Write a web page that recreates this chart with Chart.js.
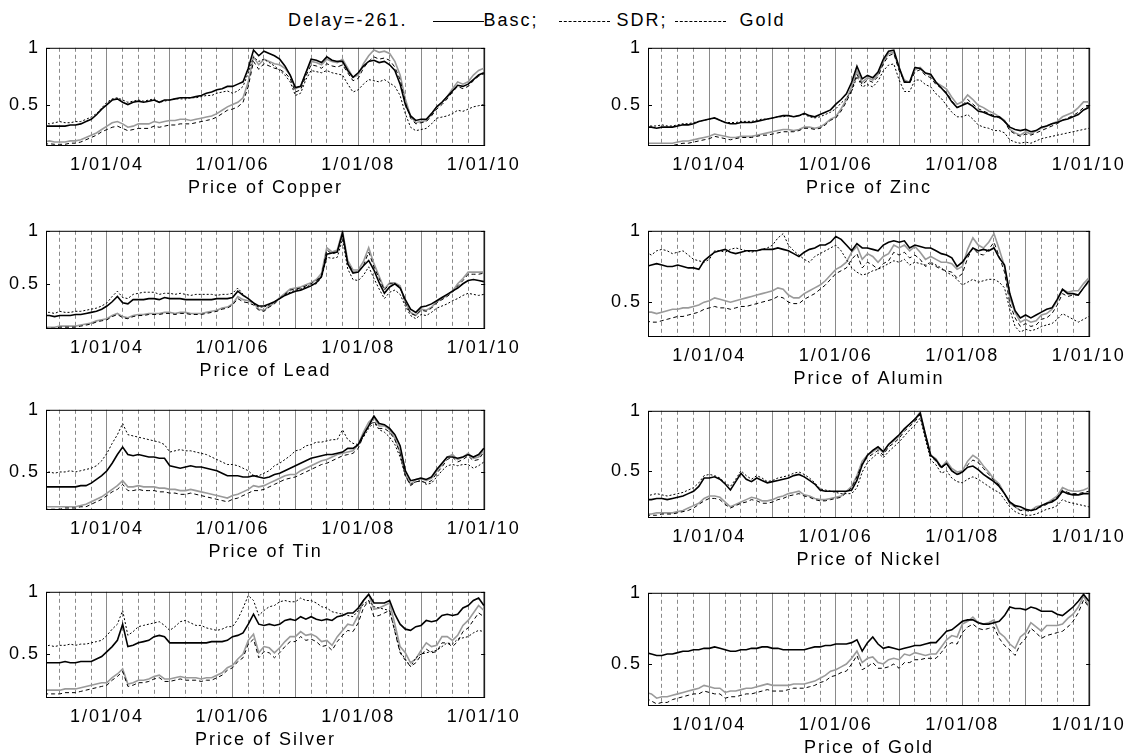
<!DOCTYPE html>
<html>
<head>
<meta charset="utf-8">
<script src="https://cdn.jsdelivr.net/npm/chart.js@4"></script>
<style>
  body { margin: 0; background: #fff; overflow: hidden; width: 1135px; height: 754px; position: relative; }
  .panel { position: absolute; }
  #header { position: absolute; top: 9px; left: 288px; font: 18px "Liberation Sans", Arial, sans-serif; letter-spacing: 2px; line-height: 22px; white-space: pre; color: #000; }
  .smp { display: inline-block; width: 51px; height: 0; vertical-align: middle; border-top: 1px solid #000; }
  .smp.dash { border-top: 1px dashed #000; }
</style>
</head>
<body>
<div id="header">Delay=-261.   <span class="smp" style="margin-left:4px"></span>Basc;  <span class="smp dash" style="margin-left:6px"></span> SDR; <span class="smp dash"></span>  Gold</div>
<script>
// monthly samples, Jan 2003 .. Jan 2010
const months = [
  '2003-01','2003-02','2003-03','2003-04','2003-05','2003-06','2003-07','2003-08','2003-09','2003-10','2003-11','2003-12',
  '2004-01','2004-02','2004-03','2004-04','2004-05','2004-06','2004-07','2004-08','2004-09','2004-10','2004-11','2004-12',
  '2005-01','2005-02','2005-03','2005-04','2005-05','2005-06','2005-07','2005-08','2005-09','2005-10','2005-11','2005-12',
  '2006-01','2006-02','2006-03','2006-04','2006-05','2006-06','2006-07','2006-08','2006-09','2006-10','2006-11','2006-12',
  '2007-01','2007-02','2007-03','2007-04','2007-05','2007-06','2007-07','2007-08','2007-09','2007-10','2007-11','2007-12',
  '2008-01','2008-02','2008-03','2008-04','2008-05','2008-06','2008-07','2008-08','2008-09','2008-10','2008-11','2008-12',
  '2009-01','2009-02','2009-03','2009-04','2009-05','2009-06','2009-07','2009-08','2009-09','2009-10','2009-11','2009-12',
  '2010-01'
];

const tickYears = [2004, 2006, 2008, 2010];
const tickLabels = ['1/01/04', '1/01/06', '1/01/08', '1/01/10'];
const yTickValues = [0.5, 1];
const yTickLabels = ['0.5', '1'];

// Copper
const copperPrice = [
  0.17,0.18,0.17,0.17,0.17,0.18,0.18,0.19,0.21,0.23,0.25,0.28,
  0.31,0.34,0.35,0.33,0.30,0.31,0.33,0.33,0.33,0.35,0.34,0.35,
  0.36,0.36,0.37,0.37,0.36,0.37,0.38,0.39,0.40,0.42,0.45,0.48,
  0.50,0.52,0.56,0.70,0.92,0.85,0.90,0.88,0.86,0.85,0.82,0.76,
  0.64,0.66,0.78,0.88,0.87,0.85,0.90,0.88,0.87,0.90,0.82,0.74,
  0.76,0.86,0.93,0.98,0.96,0.97,0.95,0.88,0.76,0.55,0.40,0.34,
  0.35,0.36,0.42,0.48,0.52,0.57,0.64,0.70,0.68,0.70,0.76,0.80,
  0.82];
const copperBasc = [
  0.31,0.31,0.31,0.31,0.31,0.32,0.32,0.33,0.35,0.37,0.41,0.46,
  0.50,0.54,0.55,0.52,0.50,0.52,0.53,0.52,0.53,0.54,0.52,0.54,
  0.54,0.55,0.56,0.56,0.56,0.57,0.58,0.60,0.61,0.63,0.64,0.66,
  0.66,0.68,0.70,0.82,0.98,0.93,0.97,0.95,0.93,0.90,0.84,0.76,
  0.65,0.66,0.78,0.90,0.89,0.87,0.92,0.89,0.88,0.88,0.80,0.74,
  0.78,0.84,0.88,0.89,0.87,0.88,0.85,0.80,0.68,0.50,0.40,0.36,
  0.37,0.37,0.42,0.48,0.52,0.57,0.62,0.67,0.66,0.68,0.72,0.76,
  0.78];
const copperSdr = [
  0.15,0.155,0.15,0.15,0.15,0.16,0.16,0.17,0.19,0.21,0.23,0.26,
  0.28,0.30,0.31,0.29,0.27,0.28,0.29,0.29,0.29,0.31,0.30,0.31,
  0.32,0.32,0.33,0.33,0.33,0.34,0.35,0.36,0.37,0.39,0.42,0.45,
  0.46,0.48,0.52,0.66,0.88,0.81,0.86,0.84,0.82,0.81,0.78,0.73,
  0.61,0.63,0.75,0.85,0.84,0.82,0.86,0.84,0.83,0.85,0.78,0.71,
  0.73,0.82,0.88,0.92,0.90,0.91,0.89,0.83,0.72,0.52,0.38,0.33,
  0.34,0.35,0.40,0.46,0.50,0.55,0.61,0.66,0.64,0.66,0.71,0.75,
  0.77];
const copperGold = [
  0.34,0.33,0.34,0.35,0.34,0.34,0.35,0.35,0.37,0.39,0.42,0.47,
  0.52,0.55,0.56,0.54,0.52,0.53,0.54,0.53,0.54,0.55,0.52,0.53,
  0.54,0.55,0.55,0.55,0.56,0.56,0.57,0.58,0.58,0.60,0.61,0.62,
  0.60,0.62,0.66,0.78,0.92,0.88,0.90,0.87,0.84,0.80,0.76,0.70,
  0.58,0.60,0.72,0.80,0.79,0.78,0.80,0.78,0.77,0.76,0.68,0.61,
  0.63,0.68,0.72,0.71,0.70,0.72,0.69,0.66,0.58,0.42,0.30,0.27,
  0.28,0.29,0.33,0.38,0.39,0.40,0.42,0.45,0.44,0.46,0.48,0.49,
  0.50];

// Zinc
const zincPrice = [
  0.17,0.17,0.17,0.17,0.17,0.17,0.18,0.19,0.19,0.20,0.21,0.22,
  0.23,0.25,0.24,0.23,0.22,0.22,0.23,0.23,0.23,0.24,0.25,0.26,
  0.27,0.28,0.29,0.29,0.28,0.29,0.31,0.31,0.30,0.31,0.34,0.38,
  0.40,0.47,0.55,0.66,0.80,0.70,0.74,0.72,0.77,0.88,0.95,0.96,
  0.82,0.72,0.70,0.81,0.83,0.78,0.76,0.70,0.67,0.64,0.57,0.51,
  0.53,0.59,0.55,0.50,0.48,0.45,0.43,0.40,0.37,0.29,0.26,0.24,
  0.27,0.25,0.28,0.30,0.32,0.34,0.36,0.40,0.42,0.44,0.48,0.53,
  0.53];
const zincBasc = [
  0.31,0.31,0.30,0.31,0.31,0.31,0.32,0.33,0.33,0.34,0.36,0.37,
  0.38,0.39,0.37,0.35,0.34,0.34,0.35,0.35,0.35,0.36,0.37,0.38,
  0.39,0.40,0.41,0.41,0.40,0.41,0.43,0.41,0.40,0.42,0.44,0.46,
  0.51,0.55,0.60,0.70,0.84,0.73,0.76,0.74,0.79,0.90,0.97,0.98,
  0.83,0.70,0.70,0.83,0.82,0.78,0.77,0.70,0.65,0.60,0.53,0.48,
  0.50,0.52,0.49,0.45,0.44,0.42,0.40,0.40,0.36,0.31,0.29,0.28,
  0.29,0.27,0.28,0.31,0.32,0.34,0.35,0.37,0.38,0.40,0.42,0.46,
  0.48];
const zincSdr = [
  0.15,0.15,0.15,0.15,0.15,0.15,0.16,0.17,0.17,0.18,0.19,0.20,
  0.21,0.23,0.22,0.21,0.20,0.21,0.22,0.22,0.22,0.23,0.24,0.24,
  0.25,0.26,0.27,0.27,0.27,0.28,0.30,0.30,0.29,0.30,0.33,0.37,
  0.39,0.45,0.53,0.63,0.77,0.68,0.72,0.70,0.75,0.86,0.93,0.95,
  0.80,0.71,0.69,0.79,0.81,0.76,0.74,0.68,0.65,0.61,0.54,0.48,
  0.50,0.55,0.51,0.47,0.45,0.43,0.41,0.39,0.36,0.28,0.25,0.23,
  0.25,0.24,0.26,0.28,0.30,0.32,0.34,0.37,0.39,0.41,0.44,0.48,
  0.49];
const zincGold = [
  0.32,0.32,0.32,0.33,0.32,0.32,0.33,0.34,0.34,0.35,0.36,0.37,
  0.38,0.39,0.37,0.35,0.35,0.35,0.36,0.36,0.36,0.37,0.38,0.38,
  0.39,0.40,0.40,0.41,0.40,0.41,0.42,0.40,0.39,0.40,0.42,0.44,
  0.47,0.52,0.56,0.62,0.75,0.66,0.68,0.66,0.71,0.80,0.85,0.86,
  0.72,0.62,0.62,0.72,0.72,0.68,0.66,0.60,0.56,0.50,0.44,0.40,
  0.40,0.42,0.38,0.33,0.31,0.30,0.28,0.28,0.26,0.20,0.18,0.17,
  0.18,0.17,0.19,0.21,0.22,0.23,0.24,0.25,0.26,0.27,0.28,0.29,
  0.30];

// Lead
const leadPrice = [
  0.09,0.09,0.09,0.10,0.10,0.10,0.10,0.11,0.12,0.13,0.15,0.16,
  0.17,0.20,0.22,0.19,0.18,0.20,0.21,0.21,0.22,0.22,0.22,0.23,
  0.23,0.22,0.23,0.23,0.22,0.22,0.22,0.23,0.24,0.25,0.27,0.28,
  0.31,0.38,0.35,0.34,0.32,0.26,0.25,0.29,0.32,0.37,0.41,0.45,
  0.46,0.47,0.49,0.51,0.54,0.60,0.84,0.80,0.82,1.00,0.72,0.63,
  0.63,0.71,0.84,0.69,0.57,0.45,0.51,0.51,0.48,0.32,0.23,0.20,
  0.26,0.25,0.28,0.33,0.36,0.39,0.43,0.50,0.55,0.61,0.61,0.61,
  0.61];
const leadBasc = [
  0.20,0.20,0.19,0.20,0.20,0.20,0.21,0.21,0.22,0.23,0.24,0.26,
  0.29,0.33,0.38,0.32,0.31,0.35,0.35,0.35,0.36,0.36,0.35,0.37,
  0.36,0.36,0.36,0.35,0.35,0.35,0.35,0.35,0.35,0.36,0.36,0.36,
  0.37,0.43,0.39,0.36,0.32,0.29,0.29,0.31,0.33,0.36,0.39,0.41,
  0.43,0.44,0.46,0.48,0.51,0.57,0.78,0.79,0.80,0.98,0.69,0.60,
  0.61,0.67,0.72,0.63,0.51,0.41,0.47,0.50,0.46,0.35,0.26,0.23,
  0.28,0.29,0.31,0.34,0.37,0.40,0.43,0.46,0.50,0.53,0.54,0.53,
  0.52];
const leadSdr = [
  0.08,0.08,0.08,0.09,0.09,0.09,0.09,0.10,0.11,0.12,0.14,0.15,
  0.16,0.19,0.21,0.18,0.17,0.19,0.20,0.20,0.21,0.21,0.21,0.22,
  0.22,0.21,0.22,0.22,0.21,0.21,0.21,0.22,0.23,0.24,0.26,0.27,
  0.30,0.36,0.33,0.32,0.30,0.25,0.24,0.28,0.31,0.36,0.40,0.44,
  0.45,0.46,0.48,0.50,0.53,0.58,0.82,0.78,0.80,0.97,0.70,0.61,
  0.61,0.67,0.80,0.66,0.55,0.44,0.50,0.50,0.47,0.32,0.22,0.20,
  0.25,0.24,0.27,0.32,0.35,0.38,0.42,0.48,0.53,0.59,0.59,0.59,
  0.60];
const leadGold = [
  0.23,0.23,0.22,0.24,0.23,0.23,0.24,0.24,0.25,0.26,0.27,0.29,
  0.32,0.38,0.43,0.37,0.36,0.40,0.41,0.42,0.42,0.42,0.40,0.41,
  0.41,0.40,0.41,0.40,0.39,0.40,0.40,0.40,0.40,0.39,0.40,0.40,
  0.41,0.46,0.40,0.36,0.31,0.28,0.28,0.30,0.33,0.36,0.40,0.42,
  0.44,0.45,0.47,0.49,0.50,0.56,0.75,0.74,0.75,0.92,0.64,0.54,
  0.53,0.58,0.66,0.55,0.45,0.36,0.42,0.44,0.40,0.29,0.20,0.17,
  0.21,0.20,0.23,0.27,0.29,0.31,0.34,0.36,0.39,0.41,0.40,0.39,
  0.40];

// Aluminium
const aluminPrice = [
  0.43,0.43,0.42,0.43,0.44,0.45,0.45,0.46,0.46,0.47,0.48,0.50,
  0.51,0.53,0.52,0.51,0.50,0.51,0.52,0.53,0.54,0.55,0.56,0.57,
  0.58,0.60,0.59,0.55,0.53,0.53,0.56,0.58,0.60,0.62,0.65,0.69,
  0.73,0.75,0.78,0.85,0.89,0.80,0.84,0.82,0.78,0.82,0.84,0.90,
  0.88,0.90,0.86,0.89,0.85,0.80,0.82,0.80,0.78,0.78,0.77,0.73,
  0.75,0.87,0.95,0.90,0.88,0.92,0.98,0.87,0.75,0.53,0.43,0.36,
  0.38,0.36,0.37,0.41,0.42,0.45,0.51,0.59,0.57,0.58,0.58,0.63,
  0.67];
const aluminBasc = [
  0.75,0.76,0.77,0.76,0.75,0.75,0.76,0.75,0.74,0.74,0.73,0.79,
  0.82,0.85,0.86,0.87,0.85,0.84,0.85,0.86,0.86,0.86,0.87,0.87,
  0.87,0.88,0.87,0.86,0.84,0.82,0.85,0.87,0.88,0.90,0.90,0.92,
  0.96,0.94,0.90,0.86,0.91,0.88,0.88,0.87,0.86,0.90,0.92,0.93,
  0.92,0.93,0.88,0.90,0.89,0.88,0.88,0.86,0.84,0.83,0.81,0.75,
  0.78,0.83,0.88,0.86,0.87,0.86,0.88,0.81,0.76,0.56,0.44,0.39,
  0.41,0.39,0.41,0.43,0.45,0.46,0.52,0.59,0.56,0.56,0.55,0.60,
  0.65];
const aluminSdr = [
  0.37,0.36,0.36,0.37,0.38,0.39,0.40,0.40,0.41,0.42,0.43,0.45,
  0.46,0.47,0.46,0.46,0.45,0.46,0.47,0.47,0.48,0.49,0.50,0.51,
  0.52,0.54,0.53,0.50,0.49,0.49,0.52,0.54,0.56,0.59,0.62,0.66,
  0.70,0.72,0.74,0.80,0.84,0.74,0.78,0.76,0.73,0.77,0.79,0.85,
  0.83,0.85,0.81,0.83,0.80,0.75,0.77,0.75,0.73,0.72,0.71,0.67,
  0.70,0.81,0.88,0.84,0.83,0.87,0.92,0.82,0.71,0.49,0.39,0.33,
  0.35,0.33,0.34,0.38,0.39,0.42,0.48,0.56,0.54,0.55,0.55,0.60,
  0.64];
const aluminGold = [
  0.85,0.83,0.86,0.87,0.86,0.84,0.85,0.86,0.83,0.80,0.79,0.78,
  0.80,0.86,0.86,0.85,0.87,0.88,0.87,0.86,0.85,0.86,0.87,0.88,
  0.90,0.95,0.98,0.90,0.86,0.83,0.80,0.78,0.82,0.84,0.86,0.88,
  0.90,0.86,0.80,0.74,0.71,0.69,0.70,0.72,0.73,0.75,0.77,0.79,
  0.78,0.80,0.76,0.78,0.77,0.76,0.78,0.76,0.74,0.71,0.69,0.66,
  0.62,0.64,0.66,0.64,0.65,0.66,0.66,0.64,0.60,0.45,0.33,0.29,
  0.31,0.30,0.31,0.33,0.34,0.35,0.38,0.42,0.40,0.38,0.36,0.38,
  0.40];

// Tin
const tinPrice = [
  0.22,0.22,0.22,0.22,0.22,0.22,0.22,0.23,0.24,0.26,0.28,0.30,
  0.33,0.36,0.39,0.43,0.38,0.38,0.39,0.38,0.38,0.38,0.37,0.37,
  0.36,0.36,0.35,0.35,0.36,0.35,0.34,0.33,0.32,0.31,0.30,0.29,
  0.31,0.32,0.34,0.36,0.39,0.38,0.39,0.41,0.43,0.45,0.47,0.48,
  0.48,0.51,0.53,0.55,0.57,0.59,0.60,0.62,0.64,0.65,0.66,0.67,
  0.72,0.82,0.90,0.94,0.87,0.87,0.84,0.77,0.66,0.48,0.40,0.44,
  0.45,0.43,0.45,0.51,0.56,0.62,0.64,0.60,0.62,0.65,0.61,0.62,
  0.68];
const tinBasc = [
  0.38,0.38,0.38,0.38,0.38,0.38,0.38,0.39,0.39,0.41,0.44,0.47,
  0.51,0.57,0.64,0.70,0.64,0.63,0.64,0.63,0.62,0.62,0.61,0.61,
  0.55,0.54,0.53,0.54,0.55,0.54,0.54,0.53,0.52,0.51,0.49,0.47,
  0.47,0.47,0.46,0.46,0.47,0.46,0.45,0.46,0.48,0.49,0.51,0.53,
  0.55,0.57,0.59,0.61,0.62,0.63,0.64,0.64,0.65,0.66,0.69,0.69,
  0.72,0.80,0.87,0.95,0.89,0.88,0.85,0.80,0.71,0.51,0.43,0.44,
  0.45,0.44,0.46,0.52,0.57,0.62,0.62,0.61,0.62,0.64,0.62,0.64,
  0.69];
const tinSdr = [
  0.20,0.20,0.20,0.20,0.21,0.21,0.21,0.22,0.22,0.24,0.26,0.28,
  0.31,0.34,0.36,0.40,0.35,0.35,0.36,0.35,0.35,0.35,0.34,0.34,
  0.33,0.33,0.32,0.32,0.33,0.32,0.31,0.30,0.29,0.28,0.27,0.26,
  0.28,0.29,0.31,0.33,0.35,0.35,0.36,0.38,0.40,0.42,0.44,0.45,
  0.46,0.48,0.50,0.52,0.54,0.56,0.57,0.59,0.61,0.63,0.64,0.65,
  0.69,0.79,0.87,0.91,0.85,0.85,0.82,0.76,0.65,0.47,0.39,0.42,
  0.43,0.41,0.43,0.49,0.54,0.60,0.62,0.58,0.60,0.63,0.59,0.60,
  0.66];
const tinGold = [
  0.49,0.50,0.49,0.50,0.50,0.51,0.50,0.51,0.52,0.53,0.55,0.59,
  0.65,0.73,0.80,0.89,0.80,0.79,0.78,0.77,0.76,0.75,0.74,0.72,
  0.66,0.67,0.68,0.67,0.67,0.66,0.65,0.64,0.62,0.60,0.58,0.56,
  0.56,0.55,0.53,0.51,0.47,0.47,0.49,0.51,0.55,0.57,0.60,0.63,
  0.67,0.68,0.71,0.72,0.74,0.74,0.75,0.76,0.76,0.84,0.76,0.73,
  0.72,0.78,0.85,0.90,0.84,0.82,0.78,0.72,0.62,0.47,0.40,0.42,
  0.43,0.40,0.41,0.46,0.51,0.55,0.56,0.55,0.56,0.56,0.53,0.55,
  0.58];

// Nickel
const nickelPrice = [
  0.14,0.14,0.15,0.15,0.15,0.15,0.16,0.17,0.19,0.21,0.23,0.27,
  0.29,0.29,0.28,0.24,0.20,0.22,0.24,0.26,0.28,0.27,0.25,0.25,
  0.26,0.28,0.29,0.31,0.32,0.33,0.30,0.29,0.27,0.26,0.26,0.27,
  0.28,0.29,0.33,0.37,0.46,0.58,0.63,0.66,0.69,0.65,0.72,0.75,
  0.79,0.85,0.89,0.93,0.99,0.80,0.63,0.60,0.53,0.58,0.52,0.49,
  0.50,0.58,0.63,0.60,0.54,0.49,0.43,0.39,0.31,0.23,0.20,0.17,
  0.18,0.17,0.20,0.21,0.23,0.26,0.29,0.36,0.34,0.33,0.33,0.34,
  0.36];
const nickelBasc = [
  0.26,0.26,0.27,0.27,0.26,0.27,0.28,0.29,0.31,0.33,0.37,0.44,
  0.44,0.45,0.43,0.39,0.34,0.41,0.48,0.43,0.41,0.44,0.42,0.40,
  0.41,0.42,0.43,0.44,0.46,0.47,0.45,0.42,0.39,0.34,0.33,0.33,
  0.33,0.33,0.33,0.34,0.42,0.55,0.63,0.67,0.70,0.66,0.72,0.76,
  0.80,0.85,0.89,0.93,0.98,0.80,0.63,0.59,0.53,0.56,0.50,0.47,
  0.49,0.53,0.54,0.51,0.47,0.44,0.41,0.37,0.31,0.24,0.21,0.20,
  0.18,0.17,0.18,0.21,0.23,0.24,0.27,0.33,0.31,0.30,0.30,0.31,
  0.31];
const nickelSdr = [
  0.13,0.13,0.13,0.14,0.14,0.14,0.15,0.16,0.17,0.19,0.22,0.25,
  0.27,0.27,0.26,0.22,0.19,0.21,0.23,0.24,0.26,0.25,0.23,0.23,
  0.24,0.26,0.27,0.29,0.30,0.31,0.29,0.28,0.26,0.25,0.25,0.26,
  0.27,0.28,0.32,0.36,0.45,0.56,0.61,0.64,0.67,0.63,0.70,0.73,
  0.77,0.83,0.87,0.91,0.97,0.79,0.62,0.58,0.52,0.56,0.50,0.47,
  0.48,0.55,0.59,0.57,0.52,0.47,0.42,0.38,0.31,0.23,0.20,0.17,
  0.17,0.16,0.19,0.20,0.22,0.25,0.28,0.34,0.32,0.31,0.31,0.32,
  0.33];
const nickelGold = [
  0.29,0.30,0.31,0.30,0.29,0.30,0.31,0.32,0.34,0.36,0.40,0.46,
  0.47,0.46,0.44,0.40,0.37,0.43,0.50,0.46,0.43,0.46,0.44,0.41,
  0.42,0.44,0.45,0.46,0.48,0.49,0.47,0.44,0.40,0.35,0.34,0.33,
  0.32,0.31,0.31,0.31,0.36,0.49,0.57,0.61,0.65,0.61,0.66,0.70,
  0.74,0.79,0.84,0.88,0.94,0.76,0.59,0.55,0.48,0.50,0.44,0.41,
  0.40,0.43,0.45,0.43,0.40,0.37,0.34,0.32,0.26,0.20,0.16,0.14,
  0.13,0.13,0.14,0.16,0.18,0.19,0.21,0.26,0.24,0.23,0.22,0.21,
  0.20];

// Silver
const silverPrice = [
  0.21,0.21,0.21,0.21,0.22,0.22,0.22,0.23,0.24,0.25,0.26,0.27,
  0.27,0.31,0.34,0.38,0.26,0.27,0.29,0.29,0.30,0.32,0.33,0.30,
  0.30,0.31,0.32,0.31,0.31,0.31,0.30,0.31,0.31,0.33,0.35,0.39,
  0.41,0.46,0.50,0.61,0.66,0.51,0.56,0.55,0.51,0.55,0.60,0.64,
  0.64,0.68,0.65,0.66,0.64,0.60,0.61,0.57,0.64,0.69,0.74,0.73,
  0.81,0.93,0.98,0.86,0.87,0.89,0.91,0.74,0.56,0.51,0.43,0.46,
  0.53,0.59,0.56,0.57,0.64,0.64,0.61,0.65,0.73,0.77,0.83,0.89,
  0.85];
const silverBasc = [
  0.43,0.43,0.43,0.43,0.44,0.43,0.43,0.44,0.44,0.44,0.46,0.48,
  0.52,0.56,0.61,0.74,0.56,0.57,0.59,0.60,0.61,0.64,0.65,0.64,
  0.59,0.59,0.59,0.59,0.59,0.59,0.59,0.59,0.60,0.60,0.60,0.61,
  0.64,0.65,0.67,0.74,0.82,0.74,0.73,0.74,0.73,0.74,0.77,0.78,
  0.77,0.80,0.78,0.80,0.78,0.77,0.78,0.77,0.80,0.81,0.83,0.83,
  0.87,0.93,0.98,0.91,0.91,0.91,0.93,0.82,0.74,0.70,0.69,0.72,
  0.73,0.77,0.76,0.77,0.81,0.82,0.81,0.82,0.87,0.89,0.93,0.95,
  0.89];
const silverSdr = [
  0.18,0.18,0.18,0.18,0.19,0.19,0.19,0.20,0.21,0.22,0.23,0.24,
  0.25,0.29,0.32,0.36,0.24,0.25,0.27,0.27,0.28,0.30,0.31,0.28,
  0.28,0.29,0.30,0.29,0.29,0.29,0.28,0.29,0.29,0.31,0.33,0.37,
  0.39,0.44,0.47,0.58,0.62,0.47,0.52,0.51,0.47,0.51,0.56,0.60,
  0.60,0.64,0.61,0.62,0.60,0.56,0.57,0.53,0.60,0.65,0.69,0.68,
  0.75,0.87,0.93,0.80,0.81,0.83,0.85,0.68,0.51,0.45,0.40,0.43,
  0.49,0.54,0.51,0.52,0.59,0.59,0.56,0.60,0.68,0.71,0.77,0.83,
  0.80];
const silverGold = [
  0.56,0.57,0.56,0.57,0.57,0.58,0.57,0.58,0.58,0.59,0.60,0.61,
  0.65,0.70,0.74,0.85,0.65,0.68,0.72,0.73,0.74,0.75,0.76,0.73,
  0.69,0.72,0.76,0.77,0.75,0.73,0.73,0.71,0.70,0.69,0.70,0.72,
  0.72,0.78,0.87,0.97,0.93,0.81,0.85,0.88,0.89,0.92,0.93,0.92,
  0.92,0.95,0.93,0.93,0.91,0.88,0.87,0.84,0.83,0.82,0.81,0.80,
  0.85,0.90,0.93,0.88,0.87,0.86,0.85,0.69,0.52,0.46,0.40,0.47,
  0.50,0.51,0.52,0.53,0.56,0.59,0.58,0.62,0.63,0.64,0.67,0.69,
  0.68];

// Gold (no gold-denominated series for gold itself)
const goldPrice = [
  0.30,0.29,0.26,0.27,0.27,0.28,0.29,0.30,0.31,0.32,0.33,0.35,
  0.34,0.33,0.33,0.30,0.31,0.31,0.32,0.33,0.33,0.34,0.35,0.36,
  0.35,0.35,0.35,0.35,0.36,0.36,0.36,0.37,0.38,0.40,0.42,0.45,
  0.46,0.48,0.50,0.54,0.59,0.51,0.54,0.55,0.51,0.50,0.53,0.54,
  0.53,0.57,0.56,0.58,0.57,0.56,0.57,0.57,0.62,0.67,0.70,0.69,
  0.78,0.80,0.83,0.79,0.78,0.79,0.81,0.72,0.69,0.64,0.61,0.69,
  0.72,0.79,0.76,0.73,0.77,0.77,0.77,0.78,0.82,0.85,0.90,0.98,
  0.90];
const goldBasc = [
  0.58,0.57,0.56,0.56,0.57,0.57,0.58,0.59,0.59,0.60,0.60,0.61,
  0.61,0.62,0.61,0.60,0.59,0.59,0.60,0.60,0.61,0.61,0.62,0.62,
  0.61,0.61,0.60,0.60,0.60,0.60,0.60,0.61,0.62,0.62,0.63,0.63,
  0.64,0.64,0.64,0.65,0.67,0.59,0.65,0.69,0.64,0.61,0.62,0.61,
  0.60,0.61,0.62,0.63,0.63,0.64,0.65,0.65,0.69,0.73,0.74,0.77,
  0.80,0.81,0.81,0.79,0.78,0.78,0.79,0.80,0.84,0.90,0.89,0.89,
  0.88,0.90,0.89,0.87,0.87,0.87,0.85,0.84,0.87,0.90,0.94,0.99,
  0.94];
const goldSdr = [
  0.26,0.24,0.22,0.23,0.23,0.25,0.26,0.27,0.28,0.29,0.29,0.31,
  0.30,0.29,0.29,0.26,0.27,0.27,0.28,0.29,0.29,0.30,0.31,0.32,
  0.31,0.31,0.31,0.32,0.33,0.33,0.33,0.34,0.35,0.37,0.38,0.41,
  0.42,0.44,0.45,0.50,0.56,0.46,0.48,0.51,0.47,0.47,0.48,0.50,
  0.47,0.51,0.51,0.53,0.53,0.54,0.54,0.54,0.58,0.63,0.65,0.64,
  0.72,0.76,0.78,0.75,0.74,0.75,0.76,0.68,0.63,0.60,0.56,0.64,
  0.68,0.75,0.72,0.68,0.70,0.71,0.72,0.73,0.76,0.80,0.86,0.95,
  0.90];

// panel layout: plot box edges in page pixels
const panels = [
  { title: 'Price of Copper', L: 46,  R: 489,  T: 45,  B: 146, yMin: 0.135, price: copperPrice, basc: copperBasc, sdr: copperSdr, gold: copperGold },
  { title: 'Price of Zinc',   L: 648, R: 1094, T: 45,  B: 146, yMin: 0.146, price: zincPrice,   basc: zincBasc,   sdr: zincSdr,   gold: zincGold },
  { title: 'Price of Lead',   L: 46,  R: 489,  T: 228, B: 329, yMin: 0.073, price: leadPrice,   basc: leadBasc,   sdr: leadSdr,   gold: leadGold },
  { title: 'Price of Alumin', L: 648, R: 1094, T: 228, B: 337, yMin: 0.256, price: aluminPrice, basc: aluminBasc, sdr: aluminSdr, gold: aluminGold },
  { title: 'Price of Tin',    L: 46,  R: 489,  T: 407, B: 510, yMin: 0.194, price: tinPrice,    basc: tinBasc,    sdr: tinSdr,    gold: tinGold },
  { title: 'Price of Nickel', L: 648, R: 1094, T: 408, B: 518, yMin: 0.107, price: nickelPrice, basc: nickelBasc, sdr: nickelSdr, gold: nickelGold },
  { title: 'Price of Silver', L: 46,  R: 489,  T: 589, B: 698, yMin: 0.147, price: silverPrice, basc: silverBasc, sdr: silverSdr, gold: silverGold },
  { title: 'Price of Gold',   L: 648, R: 1094, T: 590, B: 706, yMin: 0.205, price: goldPrice,   basc: goldBasc,   sdr: goldSdr,   gold: null }
];

const xMin = 2003.03, xMax = 2010.02;
const AXIS_W = 60, PAD_TOP = 14, PAD_RIGHT = 40, XAXIS_H = 57;

Chart.defaults.font.family = '"Liberation Sans", Arial, sans-serif';
Chart.defaults.font.size = 18;
Chart.defaults.color = '#000';

function toYear(m) {
  const parts = m.split('-');
  return Number(parts[0]) + (Number(parts[1]) - 1) / 12;
}
const xs = months.map(toYear);
function pts(arr) {
  return arr.map((v, i) => ({ x: xs[i], y: v }));
}
function isYear(v) {
  return Math.abs(v - Math.round(v)) < 1e-6;
}

// quarterly grid positions
const quarterTicks = [];
for (let q = 2003.25; q <= 2010.001; q += 0.25) quarterTicks.push(Math.round(q * 100) / 100);

// MATLAB style letter spacing, full box and small inward ticks
const spacingPlugin = {
  id: 'spacing',
  beforeLayout(chart) { chart.ctx.letterSpacing = '2px'; },
  beforeDraw(chart) { chart.ctx.letterSpacing = '2px'; }
};
const boxPlugin = {
  id: 'box',
  afterDatasetsDraw(chart) {
    const a = chart.chartArea;
    const ctx = chart.ctx;
    const ys = chart.scales.y;
    ctx.save();
    ctx.strokeStyle = '#000';
    ctx.lineWidth = 1;
    ctx.setLineDash([]);
    ctx.strokeRect(a.left + 0.5, a.top + 0.5, a.right - a.left - 1, a.bottom - a.top - 1);
    yTickValues.forEach(v => {
      const py = Math.round(ys.getPixelForValue(v)) + 0.5;
      ctx.beginPath();
      ctx.moveTo(a.left, py); ctx.lineTo(a.left + 4, py);
      ctx.moveTo(a.right - 4, py); ctx.lineTo(a.right, py);
      ctx.stroke();
    });
    ctx.restore();
  }
};

panels.forEach((p, k) => {
  const div = document.createElement('div');
  div.className = 'panel';
  div.style.left = (p.L - AXIS_W) + 'px';
  div.style.top = (p.T - PAD_TOP) + 'px';
  div.style.width = (p.R - p.L + AXIS_W + PAD_RIGHT) + 'px';
  div.style.height = (p.B - p.T + PAD_TOP + XAXIS_H) + 'px';
  const canvas = document.createElement('canvas');
  div.appendChild(canvas);
  document.body.appendChild(div);

  const datasets = [
    { label: 'Basc', data: pts(p.basc), borderColor: '#000', borderWidth: 1.6 },
    { label: 'SDR', data: pts(p.sdr), borderColor: '#000', borderWidth: 1, borderDash: [4, 3] }
  ];
  if (p.gold) {
    datasets.push({ label: 'Gold', data: pts(p.gold), borderColor: '#000', borderWidth: 1, borderDash: [2, 2] });
  }
  datasets.push({ label: 'Price', data: pts(p.price), borderColor: '#9a9a9a', borderWidth: 1.6 });

  new Chart(canvas, {
    type: 'line',
    data: { datasets: datasets },
    plugins: [spacingPlugin, boxPlugin],
    options: {
      responsive: true,
      maintainAspectRatio: false,
      animation: false,
      events: [],
      layout: { padding: { top: PAD_TOP, right: PAD_RIGHT, left: 0, bottom: 0 } },
      plugins: { legend: { display: false }, tooltip: { enabled: false } },
      elements: { point: { radius: 0 }, line: { tension: 0 } },
      scales: {
        x: {
          type: 'linear',
          min: xMin,
          max: xMax,
          afterBuildTicks: s => { s.ticks = quarterTicks.map(v => ({ value: v })); },
          afterFit: s => { s.height = XAXIS_H; },
          ticks: {
            autoSkip: false,
            maxRotation: 0,
            padding: 8,
            callback: v => {
              const i = tickYears.findIndex(y => Math.abs(y - v) < 1e-6);
              return i >= 0 ? tickLabels[i] : '';
            }
          },
          grid: { drawTicks: false, color: '#8a8a8a', lineWidth: 1 },
          border: { display: false, dash: ctx => (ctx.tick && isYear(ctx.tick.value)) ? [] : [4, 3] },
          title: { display: true, text: p.title, padding: { top: 0, bottom: 4 } }
        },
        y: {
          min: p.yMin,
          max: 1,
          afterBuildTicks: s => { s.ticks = yTickValues.map(v => ({ value: v })); },
          afterFit: s => { s.width = AXIS_W; },
          ticks: {
            padding: 6,
            callback: v => {
              const i = yTickValues.indexOf(v);
              return i >= 0 ? yTickLabels[i] : '';
            }
          },
          grid: { display: false, drawTicks: false },
          border: { display: false }
        }
      }
    }
  });
});
</script>
</body>
</html>
